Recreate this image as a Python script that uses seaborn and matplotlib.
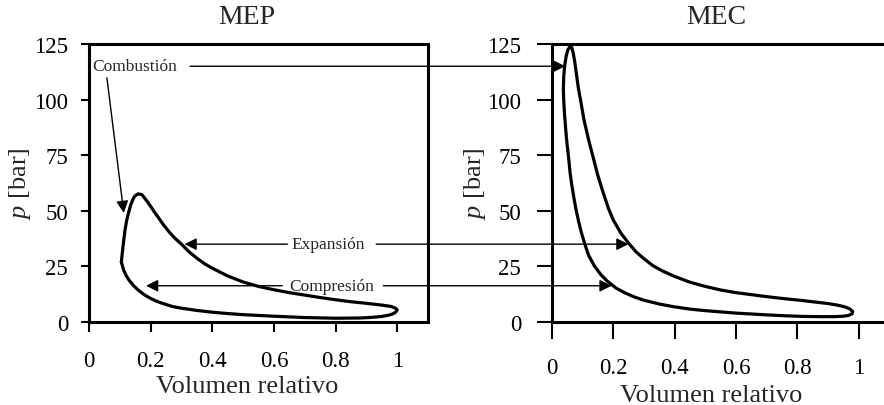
import pandas as pd
import matplotlib
matplotlib.use("Agg")
import matplotlib.pyplot as plt
from matplotlib.patches import ConnectionPatch
import seaborn as sns

# ciclo MEP (encendido provocado): combustion -> expansion -> compresion
mep_v = [0.105, 0.108, 0.112, 0.117, 0.122, 0.128, 0.135, 0.142, 0.148, 0.155,
         0.160, 0.165, 0.172, 0.180, 0.190, 0.200, 0.212, 0.225, 0.240, 0.260,
         0.280, 0.300, 0.325, 0.350, 0.375, 0.400, 0.450, 0.500, 0.550, 0.600,
         0.650, 0.700, 0.750, 0.800, 0.850, 0.900, 0.950, 0.980, 0.995, 1.000,
         0.995, 0.985, 0.970, 0.950, 0.920, 0.880, 0.800, 0.700, 0.600, 0.500,
         0.450, 0.400, 0.350, 0.300, 0.270, 0.240, 0.220, 0.200, 0.180, 0.160,
         0.145, 0.130, 0.120, 0.112, 0.105]
mep_p = [27.0, 31.0, 36.0, 41.5, 45.5, 49.0, 52.5, 55.0, 56.5, 57.3,
         57.6, 57.5, 57.2, 55.8, 54.0, 52.0, 49.5, 47.0, 44.0, 40.5,
         37.5, 35.0, 31.5, 28.7, 26.2, 24.2, 20.7, 18.0, 16.0, 14.5,
         13.2, 12.1, 11.0, 10.0, 9.1, 8.4, 7.6, 7.0, 6.2, 5.4,
         4.4, 3.6, 3.0, 2.5, 2.1, 1.8, 1.7, 2.0, 2.6, 3.3,
         3.8, 4.4, 5.2, 6.2, 7.0, 8.3, 9.3, 10.6, 12.2, 14.3,
         16.3, 18.8, 21.0, 23.5, 27.0]

# ciclo MEC (encendido por compresion)
mec_v = [0.038, 0.039, 0.042, 0.047, 0.053, 0.060, 0.065, 0.070, 0.075, 0.080,
         0.087, 0.095, 0.105, 0.120, 0.135, 0.150, 0.168, 0.185, 0.200, 0.225,
         0.250, 0.275, 0.300, 0.330, 0.360, 0.400, 0.450, 0.500, 0.550, 0.600,
         0.650, 0.700, 0.750, 0.800, 0.850, 0.900, 0.930, 0.955, 0.972, 0.980,
         0.978, 0.968, 0.950, 0.920, 0.880, 0.820, 0.760, 0.700, 0.600, 0.500,
         0.450, 0.400, 0.350, 0.300, 0.270, 0.240, 0.210, 0.180, 0.160, 0.140,
         0.120, 0.108, 0.098, 0.088, 0.080, 0.072, 0.065, 0.060, 0.055, 0.050,
         0.046, 0.042, 0.039, 0.038]
mec_p = [105.0, 110.0, 115.0, 119.5, 122.5, 123.8, 123.5, 121.0, 117.0, 112.0,
         105.0, 99.0, 91.0, 82.0, 74.0, 66.0, 58.0, 51.0, 46.0, 40.0,
         35.5, 31.5, 28.5, 25.3, 23.0, 20.5, 17.9, 16.0, 14.4, 13.2,
         12.3, 11.4, 10.6, 9.9, 9.1, 8.3, 7.6, 6.8, 5.8, 4.7,
         3.7, 3.0, 2.6, 2.4, 2.4, 2.5, 2.8, 3.2, 4.0, 5.1,
         5.8, 6.8, 8.1, 9.8, 11.2, 13.0, 15.2, 18.5, 21.3, 25.0,
         30.0, 35.0, 39.5, 45.0, 50.0, 56.0, 62.0, 67.0, 74.0, 80.0,
         86.0, 93.0, 100.0, 105.0]

xticks = [0, 0.2, 0.4, 0.6, 0.8, 1]
yticks = [0, 25, 50, 75, 100, 125]

sns.set_style("ticks")
plt.rcParams["font.family"] = ["Liberation Serif", "DejaVu Serif"]
plt.rcParams["mathtext.fontset"] = "custom"
plt.rcParams["mathtext.rm"] = "Liberation Serif"
plt.rcParams["mathtext.it"] = "Liberation Serif:italic"

fig = plt.figure(figsize=(8.84, 4.06), dpi=100)
ax1 = fig.add_axes([89 / 884, 83 / 406, 339 / 884, 278 / 406])
ax2 = fig.add_axes([551.7 / 884, 83 / 406, 337.8 / 884, 278 / 406])

df_mep = pd.DataFrame({"v": mep_v, "p": mep_p})
df_mec = pd.DataFrame({"v": mec_v, "p": mec_p})

sns.lineplot(data=df_mep, x="v", y="p", sort=False, estimator=None,
             color="black", lw=2.3, ax=ax1)
sns.lineplot(data=df_mec, x="v", y="p", sort=False, estimator=None,
             color="black", lw=2.3, ax=ax2)

settings = [
    (ax1, "MEP", 0.466, 6, 7, 9, 13, -0.165, (0.466, -0.19)),
    (ax2, "MEC", 0.486, 11, 12, 11, 13, -0.189, (0.472, -0.222)),
]
for ax, title, tx, ylen, xlen, ypad, xpad, ylab_x, xlab_xy in settings:
    ax.set_xlim(0, 1.1)
    ax.set_ylim(0, 125)
    ax.set_xticks(xticks)
    ax.set_xticklabels([f"{t:g}" for t in xticks])
    ax.set_yticks(yticks)
    for s in ax.spines.values():
        s.set_linewidth(2.2)
        s.set_color("black")
    ax.tick_params(axis="y", length=ylen, width=1.5, pad=ypad, labelsize=16.5, colors="black")
    ax.tick_params(axis="x", length=xlen, width=1.5, pad=xpad, labelsize=16.5, colors="black")
    ax.set_xlabel("Volumen relativo", fontsize=19)
    ax.set_ylabel("$p$ [bar]", fontsize=19)
    ax.yaxis.set_label_coords(ylab_x, 0.5)
    ax.xaxis.set_label_coords(*xlab_xy)
    ax.set_title(title, fontsize=20, x=tx, pad=15)

fs = 12.5
arrow = dict(arrowstyle="-|>", color="black", lw=1.0, mutation_scale=18)

# Combustion
ax1.text(0.149, 115, "Combustión", fontsize=fs, ha="center", va="center")
ax1.annotate("", xy=(0.114, 47.8), xytext=(0.057, 111), arrowprops=arrow)
con = ConnectionPatch(xyA=(0.328, 115), coordsA=ax1.transData,
                      xyB=(0.044, 115), coordsB=ax2.transData, **arrow)
fig.add_artist(con)

# Expansion
ax1.text(0.776, 35, "Expansión", fontsize=fs, ha="center", va="center")
ax1.annotate("", xy=(0.301, 35), xytext=(0.653, 35), arrowprops=arrow)
con = ConnectionPatch(xyA=(0.932, 35), coordsA=ax1.transData,
                      xyB=(0.25, 35), coordsB=ax2.transData, **arrow)
fig.add_artist(con)

# Compresion
ax1.text(0.788, 16.3, "Compresión", fontsize=fs, ha="center", va="center")
ax1.annotate("", xy=(0.176, 16.3), xytext=(0.636, 16.3), arrowprops=arrow)
con = ConnectionPatch(xyA=(0.955, 16.3), coordsA=ax1.transData,
                      xyB=(0.195, 16.3), coordsB=ax2.transData, **arrow)
fig.add_artist(con)

plt.savefig("out.png", dpi=100)
